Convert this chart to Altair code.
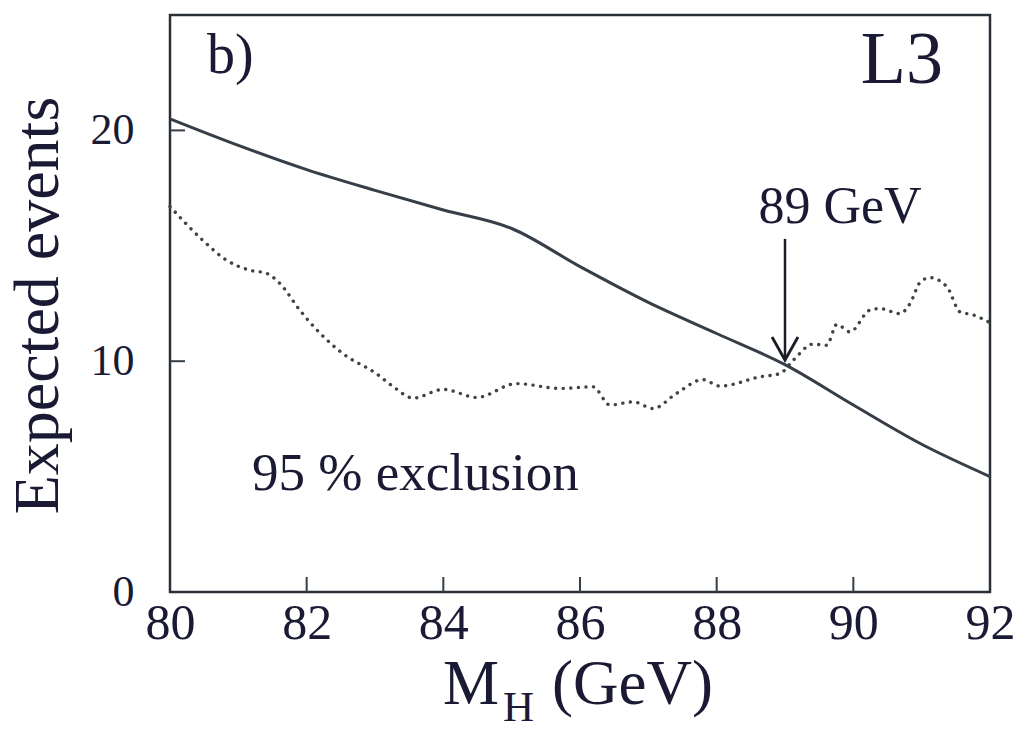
import altair as alt
import pandas as pd

# Solid curve: expected signal events
solid_m = [80, 81, 82, 83, 84, 85, 86, 87, 88, 89, 90, 91, 92]
solid_n = [20.5, 19.35, 18.3, 17.4, 16.55, 15.75, 14.1, 12.55, 11.2, 9.85, 8.1, 6.4, 5.0]

# Dotted curve: 95 % exclusion limit
dot_m = [80.0, 80.48, 80.83, 81.17, 81.42, 81.61, 81.9, 82.2, 82.53, 83.02, 83.27, 83.56,
         84.0, 84.49, 85.07, 85.71, 86.19, 86.44, 86.78, 87.07, 87.41, 87.8, 88.05, 88.63,
         88.93, 89.12, 89.41, 89.61, 89.76, 89.95, 90.24, 90.39, 90.68, 90.83, 90.98, 91.12,
         91.37, 91.56, 91.76, 91.98]
dot_n = [16.7, 15.24, 14.37, 13.94, 13.8, 13.36, 12.21, 11.2, 10.33, 9.46, 8.89, 8.4,
         8.78, 8.43, 9.03, 8.82, 8.89, 8.1, 8.24, 7.95, 8.6, 9.2, 8.92, 9.32,
         9.47, 10.04, 10.74, 10.69, 11.6, 11.27, 12.21, 12.28, 12.06, 12.5, 13.43, 13.62,
         13.22, 12.14, 12.0, 11.7]

x_ticks = [80, 82, 84, 86, 88, 90, 92]
y_ticks = [0, 10, 20]
x_inner_ticks = [82, 84, 86, 88, 90]
y_inner_ticks = [10, 20]

# Arrow pointing at 89 GeV
arrow_x = [89, 89]
arrow_y = [15.3, 10.05]
head_x = [88.81, 89.0, 89.19]
head_y = [11.05, 10.05, 11.05]

FONT = "Liberation Serif"
TXT = "#1a1a34"
LINE = "#363e48"

df_solid = pd.DataFrame({"m": solid_m, "n": solid_n})
df_dot = pd.DataFrame({"m": dot_m, "n": dot_n})

xs = alt.Scale(domain=[80, 92], nice=False, zero=False)
ys = alt.Scale(domain=[0, 25], nice=False)

x_enc = alt.X("m:Q", scale=xs, axis=alt.Axis(
    values=x_ticks, title=None, ticks=False, domain=False, grid=False, labelFlush=False,
    labelFont=FONT, labelFontSize=50, labelColor=TXT, labelPadding=6, format="d"))
y_enc = alt.Y("n:Q", scale=ys, axis=alt.Axis(
    values=y_ticks, title="Expected events", ticks=False, domain=False, grid=False,
    labelFont=FONT, labelFontSize=44, labelColor=TXT, labelPadding=36, format="d",
    titleFont=FONT, titleFontSize=64, titleFontWeight="normal", titleColor=TXT,
    titleAngle=270, titleX=-113, titleY=290, titleAlign="center", titleBaseline="alphabetic"))

solid = alt.Chart(df_solid).mark_line(color=LINE, strokeWidth=3, interpolate="monotone").encode(x=x_enc, y=y_enc)
dotted = alt.Chart(df_dot).mark_line(
    color="#3e463e", strokeWidth=3.4, strokeDash=[0.1, 7.5], strokeCap="round",
    interpolate="monotone").encode(x="m:Q", y="n:Q")

xt = alt.Chart(pd.DataFrame({"m": x_inner_ticks, "a": [0] * 5, "b": [0.65] * 5})).mark_rule(
    color=LINE, strokeWidth=2).encode(x="m:Q", y="a:Q", y2="b:Q")
yt = alt.Chart(pd.DataFrame({"n": y_inner_ticks, "a": [80] * 2, "b": [80.22] * 2})).mark_rule(
    color=LINE, strokeWidth=2).encode(y="n:Q", x="a:Q", x2="b:Q")

arrow = alt.Chart(pd.DataFrame({"m": [arrow_x[0]], "a": [arrow_y[0]], "b": [arrow_y[1]]})).mark_rule(
    color="#1c1c26", strokeWidth=2.5).encode(x="m:Q", y="a:Q", y2="b:Q")
head = alt.Chart(pd.DataFrame({"m": head_x, "n": head_y, "o": [0, 1, 2]})).mark_line(
    color="#1c1c26", strokeWidth=2.8).encode(x="m:Q", y="n:Q", order="o:Q")


def txt(s, x, y, size, align="left"):
    return alt.Chart(pd.DataFrame({"t": [s]})).mark_text(
        font=FONT, fontSize=size, color=TXT, align=align, baseline="alphabetic").encode(
        text="t:N", x=alt.value(x), y=alt.value(y))


texts = [
    txt("b)", 37, 58, 56),
    txt("L3", 773, 68, 74, "right"),
    txt("89 GeV", 670, 208, 52, "center"),
    txt("95 % exclusion", 82, 475, 53),
    txt("M", 273, 689, 63),
    txt("H", 333, 706, 43),
    txt("(GeV)", 382, 689, 63),
]

chart = alt.layer(solid, dotted, xt, yt, arrow, head, *texts).properties(
    width=820, height=577,
    autosize=alt.AutoSizeParams(type="none"),
    padding={"left": 170, "top": 15, "right": 31, "bottom": 138},
    background="white",
).configure_view(stroke="#2a3038", strokeWidth=2.5)

chart.save("out.html", embed_options={"renderer": "svg", "actions": False})
